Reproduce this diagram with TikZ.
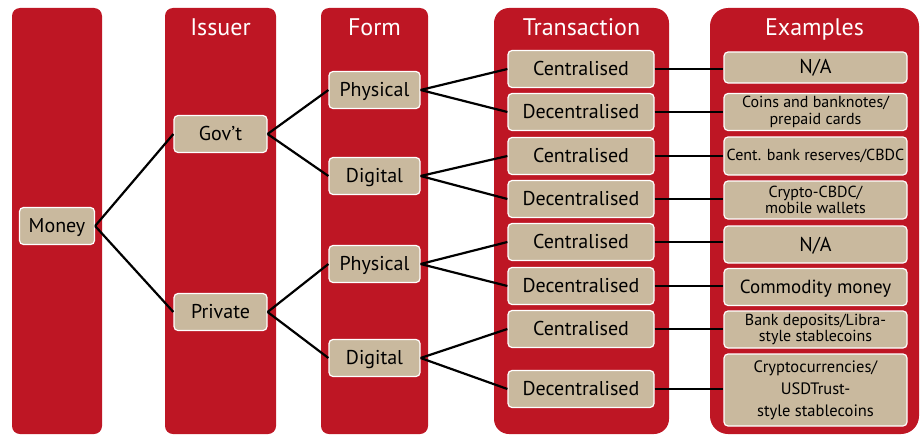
\documentclass[tikz,border=0pt]{standalone}
\usepackage{fontspec}
\setmainfont{PT Sans}
\usetikzlibrary{positioning}
\definecolor{bisred}{RGB}{190,22,36}
\definecolor{bistan}{RGB}{201,185,158}
\tikzstyle{column} = [rectangle, fill=bisred, inner sep=0pt, minimum height=426pt]
\tikzstyle{header} = [anchor=base, text=white, font=\fontsize{24}{28}\selectfont]
\tikzstyle{item} = [rectangle, rounded corners=4pt, draw=white, line width=1.2pt, fill=bistan, minimum height=37pt, inner sep=0pt, text centered, text height=15pt, text depth=2pt, font=\fontsize{20}{22}\selectfont]
\tikzstyle{example} = [item, minimum width=183pt]
\tikzstyle{small} = [text height=, text depth=, align=center, font=\fontsize{16}{16.5}\selectfont]
\tikzstyle{link} = [line width=2.2pt]

\begin{document}
\begin{tikzpicture}[x=1pt, y=-1pt]
\useasboundingbox (0,0) rectangle (920,436);

% Columns
\node (moneycol) [column, rounded corners=8pt, minimum width=90pt] at (57,221) {};
\node (issuercol) [column, rounded corners=8pt, minimum width=111pt] at (220.5,221) {};
\node (formcol) [column, rounded corners=8pt, minimum width=107pt] at (374.5,221) {};
\node (transcol) [column, rounded corners=15pt, minimum width=175pt] at (581.5,221) {};
\node (examplecol) [column, rounded corners=18pt, minimum width=209pt] at (814.5,221) {};

% Headers
\node (issuerhead) [header] at (220.5,36) {Issuer};
\node (formhead) [header] at (374.5,36) {Form};
\node (transhead) [header] at (581.5,36) {Transaction};
\node (examplehead) [header] at (814.5,36) {Examples};

% Nodes
\node (money) [item, minimum width=75pt] at (57,226) {Money};
\node (gov) [item, minimum width=93pt] at (220.5,134) {Gov’t};
\node (private) [item, minimum width=93pt] at (220.5,312) {Private};
\node (phys1) [item, minimum width=91pt] at (374.5,90) {Physical};
\node (dig1) [item, minimum width=91pt] at (374.5,176) {Digital};
\node (phys2) [item, minimum width=91pt] at (374.5,264) {Physical};
\node (dig2) [item, minimum width=91pt] at (374.5,358) {Digital};

\node (cen1) [item, minimum width=146pt] at (581,69) {Centralised};
\node (dec1) [item, minimum width=146pt] at (581,112) {Decentralised};
\node (cen2) [item, minimum width=146pt] at (581,156) {Centralised};
\node (dec2) [item, minimum width=146pt] at (581,199) {Decentralised};
\node (cen3) [item, minimum width=146pt] at (581,242) {Centralised};
\node (dec3) [item, minimum width=146pt] at (581,286) {Decentralised};
\node (cen4) [item, minimum width=146pt] at (581,329) {Centralised};
\node (dec4) [item, minimum width=146pt] at (581,389) {Decentralised};

\node (ex1) [example, minimum height=31pt] at (815.5,67.5) {N/A};
\node (ex2) [example, small] at (815.5,112) {Coins and banknotes/\\prepaid cards};
\node (ex3) [example, small, minimum height=38pt] at (815.5,156) {Cent. bank reserves/CBDC};
\node (ex4) [example, small, minimum height=38pt] at (815.5,200) {Crypto-CBDC/\\mobile wallets};
\node (ex5) [example] at (815.5,244.5) {N/A};
\node (ex6) [example, font=\fontsize{19}{22}\selectfont] at (815.5,287) {Commodity money};
\node (ex7) [example, small] at (815.5,329.5) {Bank deposits/Libra-\\style stablecoins};
\node (ex8) [example, small, minimum height=72pt, font=\fontsize{16.5}{22}\selectfont] at (815.5,390) {Cryptocurrencies/\\USDTrust-\\style stablecoins};

% Lines
\draw [link] (money.east) -- (gov.west);
\draw [link] (money.east) -- (private.west);
\draw [link] (gov.east) -- (phys1.west);
\draw [link] (gov.east) -- (dig1.west);
\draw [link] (private.east) -- (phys2.west);
\draw [link] (private.east) -- (dig2.west);
\draw [link] (phys1.east) -- (cen1.west);
\draw [link] (phys1.east) -- (dec1.west);
\draw [link] (dig1.east) -- (cen2.west);
\draw [link] (dig1.east) -- (dec2.west);
\draw [link] (phys2.east) -- (cen3.west);
\draw [link] (phys2.east) -- (dec3.west);
\draw [link] (dig2.east) -- (cen4.west);
\draw [link] (dig2.east) -- (dec4.west);
\draw [link] (cen1.east) -- (cen1.east -| ex1.west);
\draw [link] (dec1.east) -- (dec1.east -| ex2.west);
\draw [link] (cen2.east) -- (cen2.east -| ex3.west);
\draw [link] (dec2.east) -- (dec2.east -| ex4.west);
\draw [link] (cen3.east) -- (cen3.east -| ex5.west);
\draw [link] (dec3.east) -- (dec3.east -| ex6.west);
\draw [link] (cen4.east) -- (cen4.east -| ex7.west);
\draw [link] (dec4.east) -- (dec4.east -| ex8.west);

\end{tikzpicture}
\end{document}
